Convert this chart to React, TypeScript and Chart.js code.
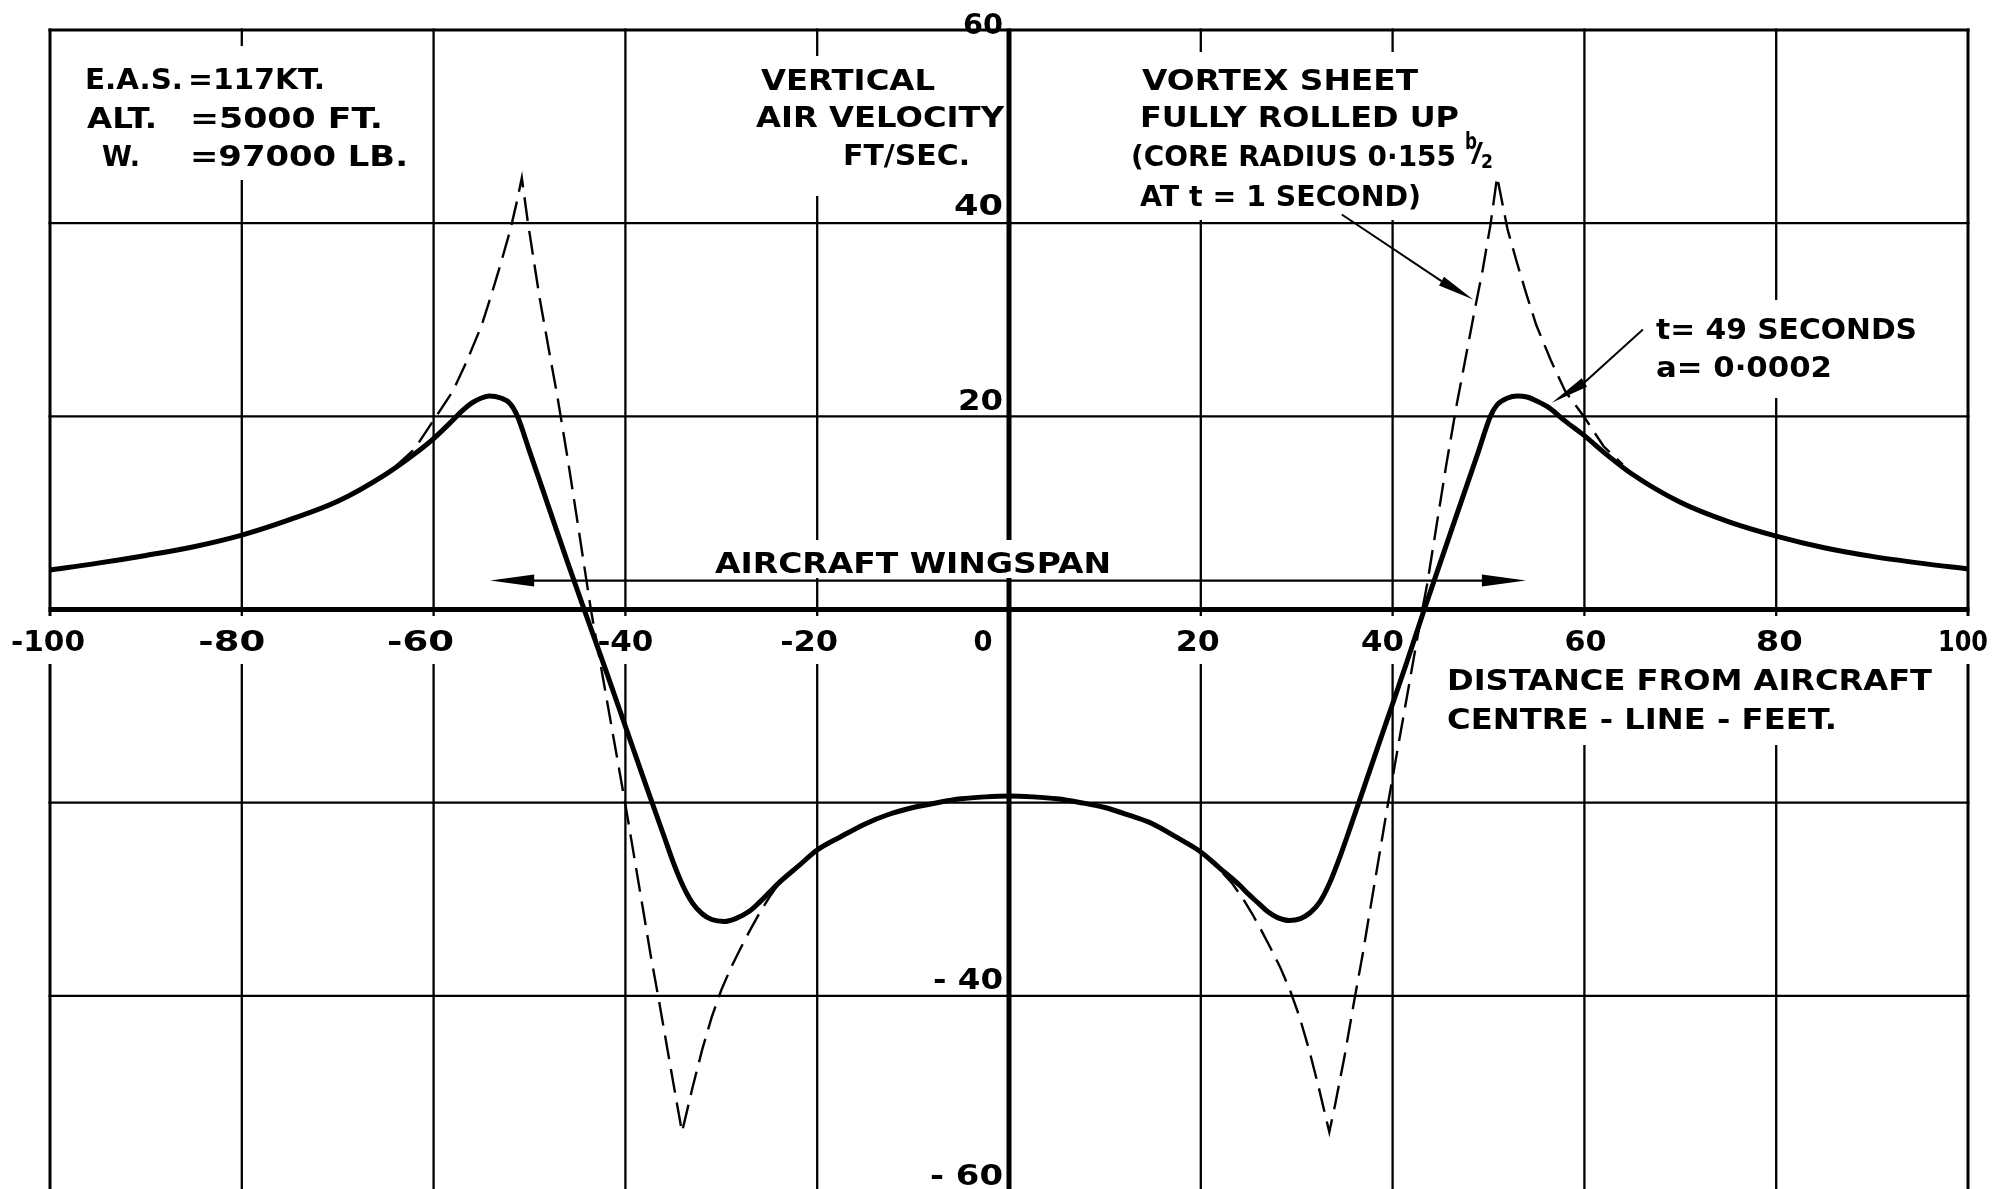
import React, { useEffect, useRef } from "react";
import { Chart, registerables } from "chart.js";

Chart.register(...registerables);

// ---- axes ----
const xTicks = [-100, -80, -60, -40, -20, 0, 20, 40, 60, 80, 100];
const xTickLabels = ["-100", "-80", "-60", "-40", "-20", "0", "20", "40", "60", "80", "100"];
const yTicks = [-60, -40, -20, 0, 20, 40, 60];
const yLabelValues = [60, 40, 20, -40, -60];
const yTickLabels = ["60", "40", "20", "- 40", "- 60"];

// ---- t = 49 seconds, a = 0.0002 (solid) ----
const solidDistance = [
  -100, -95, -90, -85, -80, -75, -70, -65, -62, -60, -58, -57, -56, -55, -54.2, -53, -52, -51.3, -50, -48,
  -46, -44.3, -42, -40, -38, -36, -35, -34, -33, -32, -31, -29.7, -28.5, -27, -26, -25, -24, -22, -20, -17.5,
  -15, -12.5, -10, -7.5, -5, -2.5, 0,
  2.5, 5, 7.5, 10, 12.5, 15, 17.5, 20, 22, 24, 25, 26, 27, 28, 29.2, 30.4, 31.4, 32.4, 33.4, 34.4, 35.4,
  37.4, 39.4, 41.4, 43.3, 45.2, 47.2, 48.9, 50.2, 50.9, 52, 53, 54, 55, 56.3, 58, 60, 62, 65, 70, 75, 80, 85,
  90, 95, 100,
];
const solidVelocity = [
  4.1, 4.8, 5.6, 6.5, 7.7, 9.3, 11.2, 14.0, 16.1, 17.7, 19.6, 20.6, 21.4, 21.9, 22.1, 21.9, 21.3, 20.1, 16.4, 10.6,
  4.8, 0, -6.4, -12.1, -17.8, -23.4, -26.2, -28.6, -30.4, -31.5, -32.1, -32.3, -32.0, -31.2, -30.3, -29.3, -28.3, -26.6, -24.9, -23.5,
  -22.2, -21.2, -20.5, -20.0, -19.6, -19.4, -19.3,
  -19.4, -19.6, -20.0, -20.5, -21.3, -22.2, -23.6, -25.1, -26.8, -28.5, -29.5, -30.4, -31.3, -31.9, -32.2, -32.0, -31.4, -30.3, -28.4, -25.9, -23.1,
  -17.3, -11.5, -5.7, 0, 5.5, 11.3, 16.2, 20.0, 21.2, 21.9, 22.1, 22.0, 21.6, 20.9, 19.5, 18.0, 16.3, 14.0, 11.1, 9.1, 7.6, 6.4,
  5.5, 4.8, 4.2,
];

// ---- vortex sheet fully rolled up, t = 1 second (dashed) ----
const coreDistance = [
  -64, -62, -60, -58, -56.5, -55, -54, -53, -52, -51.3, -50.8, -50.2, -49.5, -48.9, -48, -47.1, -46, -45, -44, -43.6,
  -42, -40, -38, -37.4, -36.5, -35.5, -34.6, -34.1, -33.5, -33, -32, -31, -30, -29, -28, -27, -26, -25, -24, -23,
  0,
  22.3, 23.3, 24.3, 25.3, 26.3, 27.3, 28.3, 29.3, 30.3, 31.3, 32.3, 32.8, 33.4, 34.0, 35.0, 36.0, 36.9, 37.5, 39.5, 41.5,
  43.1, 43.6, 44.6, 45.6, 46.7, 47.7, 48.6, 49.4, 50.2, 50.9, 51.4, 52, 53, 54, 55, 56.5, 58, 60, 62, 64,
];
const coreVelocity = [
  14.8, 16.6, 19.6, 22.6, 25.8, 29.4, 32.5, 35.8, 39.3, 42.3, 44.7, 40.3, 35.8, 32.0, 27.0, 22.1, 15.5, 9.1, 2.6, 0,
  -9.0, -20.2, -32.0, -35.6, -40.5, -46.2, -51.3, -54.1, -51.6, -49.5, -45.6, -42.2, -39.4, -37.1, -35.1, -33.2, -31.4, -29.8, -28.4, -27.3,
  null,
  -27.3, -28.4, -29.8, -31.4, -33.2, -35.1, -37.1, -39.4, -42.2, -45.6, -49.5, -51.6, -54.1, -51.3, -46.2, -40.5, -35.6, -32.0, -20.2, -9.0,
  0, 2.6, 8.8, 15.0, 21.3, 26.5, 31.2, 35.2, 39.8, 44.8, 42.3, 39.3, 35.8, 32.5, 29.4, 25.8, 22.6, 19.9, 16.9, 15.0,
];

// ---- arrows (data coordinates) ----
const wingspanTips = [-54.1, 53.9];
const wingspanLevel = 3.0;
const coreLeader = [[34.7, 40.9], [45.1, 34.0], [48.4, 32.1]]; // start, head base, tip
const lateLeader = [[66.1, 29.0], [60.0, 23.5], [56.6, 21.4]];

const FONT = '"DejaVu Sans", "Liberation Sans", sans-serif';

function fitText(ctx: CanvasRenderingContext2D, text: string, left: number, cy: number, width: number, size = 29) {
  ctx.font = `bold ${size}px ${FONT}`;
  const w = ctx.measureText(text).width;
  ctx.save();
  ctx.translate(left, cy + size * 0.365);
  ctx.scale(width / w, 1);
  ctx.textAlign = "left";
  ctx.textBaseline = "alphabetic";
  ctx.fillStyle = "#000";
  ctx.fillText(text, 0, 0);
  ctx.restore();
}

function arrowHead(ctx: CanvasRenderingContext2D, bx: number, by: number, tx: number, ty: number, halfW: number) {
  const ang = Math.atan2(ty - by, tx - bx);
  const nx = -Math.sin(ang) * halfW;
  const ny = Math.cos(ang) * halfW;
  ctx.beginPath();
  ctx.moveTo(tx, ty);
  ctx.lineTo(bx + nx, by + ny);
  ctx.lineTo(bx - nx, by - ny);
  ctx.closePath();
  ctx.fill();
}

const xLabelShift = [-2, -10, -13, 0, -8, -26, -3, -10, 1, 3, -5];
const xLabelWidth = [74, 67, 67, 56, 58, 19, 44, 43, 42, 47, 50];
const yLabelOffset = [-7, -19, -17, -17, -15];
const yLabelWidth = [40, 49, 45, 70, 73];

const textItems: [string, number, number, number][] = [
  ["E.A.S.", 85, 78, 98],
  ["=117KT.", 188, 78, 137],
  ["ALT.", 87, 117, 70],
  ["=5000 FT.", 190, 117, 193],
  ["W.", 102, 155, 38],
  ["=97000 LB.", 190, 155, 218],
  ["VERTICAL", 761, 79, 174],
  ["AIR VELOCITY", 756, 116, 248],
  ["FT/SEC.", 843, 154, 127],
  ["VORTEX SHEET", 1142, 79, 276],
  ["FULLY ROLLED UP", 1140, 116, 319],
  ["(CORE RADIUS 0·155", 1131, 155, 325],
  ["AT t = 1 SECOND)", 1140, 195, 281],
  ["t= 49 SECONDS", 1656, 328, 261],
  ["a= 0·0002", 1656, 366, 176],
  ["AIRCRAFT WINGSPAN", 715, 562, 396],
  ["DISTANCE FROM AIRCRAFT", 1447, 679, 485],
  ["CENTRE - LINE - FEET.", 1447, 718, 390],
];

const gapRects: [number, number, number, number][] = [
  [68, 46, 280, 134],
  [745, 56, 258, 140],
  [1120, 52, 380, 168],
  [1648, 300, 280, 98],
  [705, 540, 412, 38],
  [1440, 655, 502, 90],
];

const drawingPlugin = {
  id: "drawing",
  beforeDatasetsDraw(chart: any) {
    const ctx: CanvasRenderingContext2D = chart.ctx;
    const xs = chart.scales.x;
    const ys = chart.scales.y;
    const { left, right, top, bottom } = chart.chartArea;
    ctx.save();
    ctx.fillStyle = "#fff";
    ctx.fillRect(0, 0, chart.width, chart.height);
    ctx.strokeStyle = "#000";
    ctx.lineCap = "butt";
    for (const v of xTicks) {
      const px = xs.getPixelForValue(v);
      ctx.lineWidth = v === 0 ? 5 : Math.abs(v) === 100 ? 3 : 2.3;
      ctx.beginPath();
      ctx.moveTo(px, top - 1.5);
      ctx.lineTo(px, bottom);
      ctx.stroke();
    }
    for (const v of yTicks) {
      if (v === -60) continue;
      const py = ys.getPixelForValue(v);
      ctx.lineWidth = v === 0 ? 5 : v === 60 ? 3 : 2.3;
      ctx.beginPath();
      ctx.moveTo(left - 1.5, py);
      ctx.lineTo(right + 1.5, py);
      ctx.stroke();
    }
    // gaps in the grid behind lettering
    ctx.fillStyle = "#fff";
    for (const [x, y, w, h] of gapRects) ctx.fillRect(x, y, w, h);
    xTicks.forEach((v, i) => {
      const cx = xs.getPixelForValue(v) + xLabelShift[i];
      const w = xLabelWidth[i];
      ctx.fillStyle = "#fff";
      ctx.fillRect(cx - w / 2 - 5, 616, w + 10, 48);
    });
    // x tick labels
    xTicks.forEach((v, i) => {
      const cx = xs.getPixelForValue(v) + xLabelShift[i];
      const w = xLabelWidth[i];
      fitText(ctx, xTickLabels[i], cx - w / 2, 640, w);
    });
    // y tick labels
    const x0 = xs.getPixelForValue(0);
    yLabelValues.forEach((v, i) => {
      const py = ys.getPixelForValue(v) + yLabelOffset[i];
      const w = yLabelWidth[i];
      fitText(ctx, yTickLabels[i], x0 - 6 - w, py, w);
    });
    // lettering
    for (const [t, l, cy, w] of textItems) fitText(ctx, t, l, cy, w);
    fitText(ctx, "b", 1465, 141, 12, 23);
    fitText(ctx, "/", 1471, 152, 12, 27);
    fitText(ctx, "2", 1481, 161, 12, 19);
    ctx.restore();
  },
  afterDatasetsDraw(chart: any) {
    const ctx: CanvasRenderingContext2D = chart.ctx;
    const xs = chart.scales.x;
    const ys = chart.scales.y;
    ctx.save();
    ctx.strokeStyle = "#000";
    ctx.fillStyle = "#000";
    // wingspan double arrow
    const wy = ys.getPixelForValue(wingspanLevel);
    const wl = xs.getPixelForValue(wingspanTips[0]);
    const wr = xs.getPixelForValue(wingspanTips[1]);
    ctx.lineWidth = 2.2;
    ctx.beginPath();
    ctx.moveTo(wl + 20, wy);
    ctx.lineTo(wr - 20, wy);
    ctx.stroke();
    arrowHead(ctx, wl + 44, wy, wl, wy, 6);
    arrowHead(ctx, wr - 44, wy, wr, wy, 6);
    // leaders
    for (const leader of [coreLeader, lateLeader]) {
      const [s, b, t] = leader.map(([x, y]) => [xs.getPixelForValue(x), ys.getPixelForValue(y)]);
      ctx.lineWidth = 2;
      ctx.beginPath();
      ctx.moveTo(s[0], s[1]);
      ctx.lineTo(b[0], b[1]);
      ctx.stroke();
      arrowHead(ctx, b[0], b[1], t[0], t[1], 5);
    }
    ctx.restore();
  },
};

export default function App() {
  const ref = useRef<HTMLCanvasElement>(null);
  useEffect(() => {
    if (!ref.current) return;
    const solid = solidDistance.map((x, i) => ({ x, y: solidVelocity[i] }));
    const core = coreDistance.map((x, i) => ({ x, y: coreVelocity[i] }));
    const chart = new Chart(ref.current, {
      type: "scatter",
      data: {
        datasets: [
          {
            label: "Vortex sheet fully rolled up (t = 1 s)",
            data: core as any,
            showLine: true,
            borderColor: "#000",
            borderWidth: 2.4,
            borderDash: [24, 10],
            pointRadius: 0,
            tension: 0,
            spanGaps: false,
            order: 2,
          },
          {
            label: "t = 49 s, a = 0.0002",
            data: solid,
            showLine: true,
            borderColor: "#000",
            borderWidth: 5,
            pointRadius: 0,
            cubicInterpolationMode: "monotone",
            order: 1,
          },
        ],
      },
      options: {
        responsive: false,
        maintainAspectRatio: false,
        animation: false,
        devicePixelRatio: 1,
        events: [],
        layout: { padding: { left: 50, right: 30, top: 30, bottom: 0 } },
        scales: {
          x: { type: "linear", min: -100, max: 100, display: false },
          y: { type: "linear", min: -60, max: 60, display: false },
        },
        plugins: { legend: { display: false }, tooltip: { enabled: false } },
      },
      plugins: [drawingPlugin],
    });
    return () => chart.destroy();
  }, []);
  return (
    <div style={{ position: "absolute", left: 0, top: 0, width: 1998, height: 1189, background: "#fff" }}>
      <canvas ref={ref} width={1998} height={1189} style={{ display: "block" }} />
    </div>
  );
}
